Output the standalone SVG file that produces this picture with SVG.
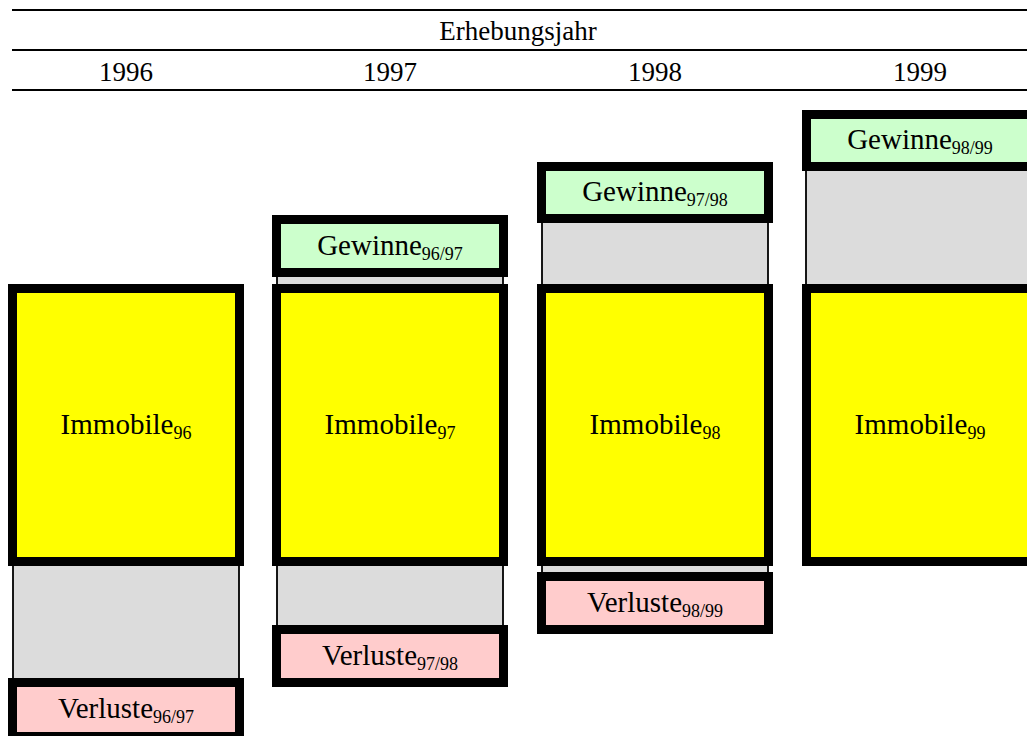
<svg xmlns="http://www.w3.org/2000/svg" width="1027" height="736" viewBox="0 0 1027 736">
<style>
.hl{stroke:#000;stroke-width:2.2;fill:none}
.hd{font-family:"Liberation Serif","Times New Roman",serif;font-size:27px;fill:#000;text-anchor:middle}
.lb{font-family:"Liberation Serif","Times New Roman",serif;font-size:29px;fill:#000;text-anchor:middle}
.sub{font-size:18px}
.gr{fill:#dcdcdc;stroke:#000;stroke-width:1.8}
.bx{stroke:#000;stroke-width:9}
.im{fill:#ffff00}
.gw{fill:#ccffcc}
.vl{fill:#ffcccc}
</style>
<rect width="1027" height="736" fill="#fff"/>
<g id="header">
<line class="hl" x1="12" y1="10" x2="1027" y2="10"/>
<line class="hl" x1="12" y1="50" x2="1027" y2="50"/>
<line class="hl" x1="12" y1="90" x2="1027" y2="90"/>
<text class="hd" x="518" y="40">Erhebungsjahr</text>
<text class="hd" x="126" y="81">1996</text>
<text class="hd" x="390" y="81">1997</text>
<text class="hd" x="655" y="81">1998</text>
<text class="hd" x="920" y="81">1999</text>
</g>
<g id="strips">
<rect class="gr" x="13" y="562" width="226" height="120"/>
<rect class="gr" x="277" y="273" width="226" height="15"/>
<rect class="gr" x="277" y="562" width="226" height="67"/>
<rect class="gr" x="542" y="219" width="226" height="69"/>
<rect class="gr" x="542" y="562" width="226" height="14"/>
<rect class="gr" x="806" y="167" width="240" height="121"/>
</g>
<g id="immobile96"><rect class="bx im" x="12.5" y="288.5" width="227" height="273"/><text class="lb" x="126" y="434">Immobile<tspan class="sub" dy="5">96</tspan></text></g>
<g id="verluste9697"><rect class="bx vl" x="12.5" y="682.5" width="227" height="54"/><text class="lb" x="126" y="718">Verluste<tspan class="sub" dy="5">96/97</tspan></text></g>
<g id="gewinne9697"><rect class="bx gw" x="276.5" y="219.5" width="227" height="53"/><text class="lb" x="390" y="255">Gewinne<tspan class="sub" dy="5">96/97</tspan></text></g>
<g id="immobile97"><rect class="bx im" x="276.5" y="288.5" width="227" height="273"/><text class="lb" x="390" y="434">Immobile<tspan class="sub" dy="5">97</tspan></text></g>
<g id="verluste9798"><rect class="bx vl" x="276.5" y="629.5" width="227" height="53"/><text class="lb" x="390" y="665">Verluste<tspan class="sub" dy="5">97/98</tspan></text></g>
<g id="gewinne9798"><rect class="bx gw" x="541.5" y="166.5" width="227" height="52"/><text class="lb" x="655" y="201">Gewinne<tspan class="sub" dy="5">97/98</tspan></text></g>
<g id="immobile98"><rect class="bx im" x="541.5" y="288.5" width="227" height="273"/><text class="lb" x="655" y="434">Immobile<tspan class="sub" dy="5">98</tspan></text></g>
<g id="verluste9899"><rect class="bx vl" x="541.5" y="576.5" width="227" height="53"/><text class="lb" x="655" y="612">Verluste<tspan class="sub" dy="5">98/99</tspan></text></g>
<g id="gewinne9899"><rect class="bx gw" x="806.5" y="114.5" width="227" height="52"/><text class="lb" x="920" y="149">Gewinne<tspan class="sub" dy="5">98/99</tspan></text></g>
<g id="immobile99"><rect class="bx im" x="806.5" y="288.5" width="227" height="273"/><text class="lb" x="920" y="434">Immobile<tspan class="sub" dy="5">99</tspan></text></g>
</svg>
